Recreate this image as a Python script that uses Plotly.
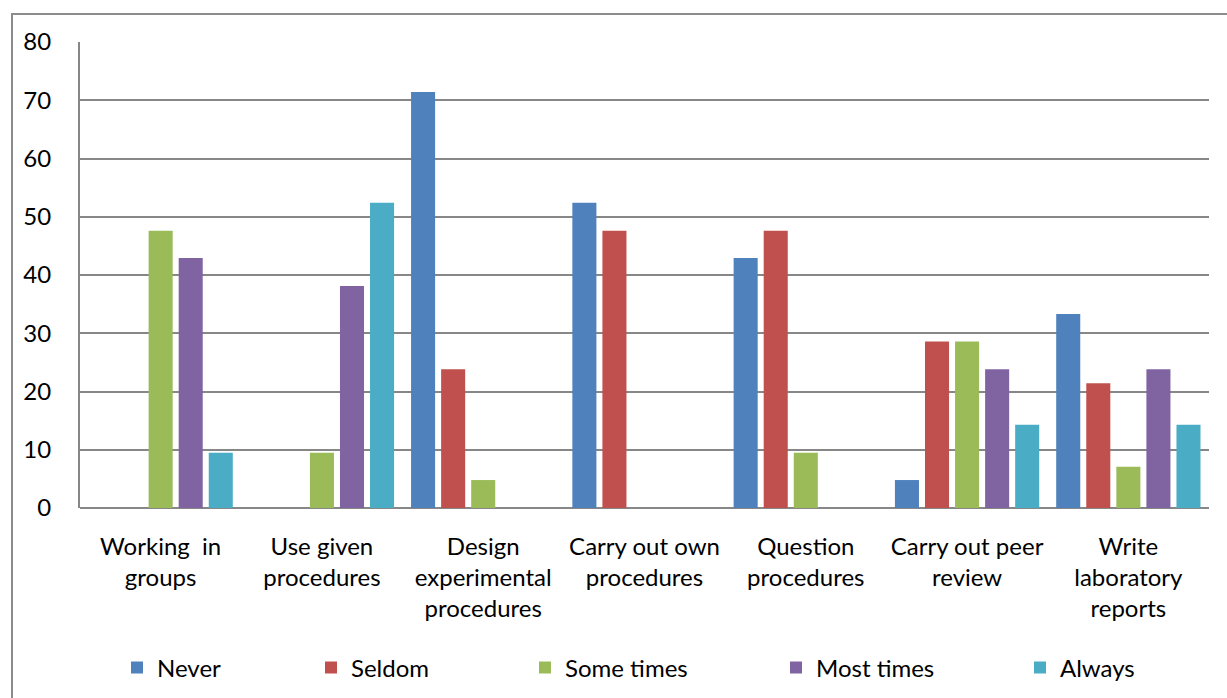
import plotly.graph_objects as go

categories = [
    "Working  in<br>groups",
    "Use given<br>procedures",
    "Design<br>experimental<br>procedures",
    "Carry out own<br>procedures",
    "Question<br>procedures",
    "Carry out peer<br>review",
    "Write<br>laboratory<br>reports",
]
never = [0, 0, 71.4, 52.4, 42.9, 4.8, 33.3]
seldom = [0, 0, 23.8, 47.6, 47.6, 28.6, 21.4]
some_times = [47.6, 9.5, 4.8, 0, 9.5, 28.6, 7.1]
most_times = [42.9, 38.1, 0, 0, 0, 23.8, 23.8]
always = [9.5, 52.4, 0, 0, 0, 14.3, 14.3]

series = [
    ("Never", never, "#4F81BD"),
    ("Seldom", seldom, "#C0504D"),
    ("Some times", some_times, "#9BBB59"),
    ("Most times", most_times, "#8064A2"),
    ("Always", always, "#4BACC6"),
]

FONT = "Lato, 'Open Sans', sans-serif"
FS = 24
W, H = 1227, 698
L, R, T, B = 80, 18, 42, 190
pw, ph = W - L - R, H - T - B

# one legend per series so each entry sits at its own horizontal position
legend_px = [117, 311, 525, 776, 1020]

fig = go.Figure()
layout_legends = {}
for i, (name, vals, color) in enumerate(series):
    key = "legend" if i == 0 else f"legend{i + 1}"
    fig.add_trace(go.Bar(
        x=categories, y=vals, name=name,
        marker=dict(color=color, line=dict(width=0)),
        legend=key,
    ))
    layout_legends[key] = dict(
        xref="container", yref="container",
        x=legend_px[i] / W, xanchor="left",
        y=1 - 668 / H, yanchor="middle",
        orientation="h",
        font=dict(family=FONT, size=FS, color="#000000"),
        bgcolor="rgba(0,0,0,0)",
    )

fig.update_layout(
    width=W, height=H,
    margin=dict(l=L, r=R, t=T, b=B, autoexpand=False),
    paper_bgcolor="white", plot_bgcolor="white",
    barmode="group", bargap=0.068, bargroupgap=0.2,
    showlegend=True,
    font=dict(family=FONT, size=FS, color="#000000"),
    **layout_legends,
)
fig.update_xaxes(
    showline=False, showgrid=False, ticks="",
    tickfont=dict(family=FONT, size=FS, color="#000000"),
    ticklabelstandoff=22,
)
fig.update_yaxes(
    range=[0, 80], dtick=10, showgrid=True,
    gridcolor="#878787", gridwidth=2,
    showline=True, linecolor="#878787", linewidth=2,
    zeroline=True, zerolinecolor="#878787", zerolinewidth=2,
    ticks="", ticklabelstandoff=22,
    tickfont=dict(family=FONT, size=FS, color="#000000"),
)

# chart-area border
fig.add_shape(
    type="rect", xref="paper", yref="paper",
    x0=(12 - L) / pw, x1=1.2,
    y0=-0.6, y1=1 + (T - 14) / ph,
    line=dict(color="#8c8c8c", width=2), fillcolor="rgba(0,0,0,0)",
    layer="below",
)

fig.write_html("out.html")
